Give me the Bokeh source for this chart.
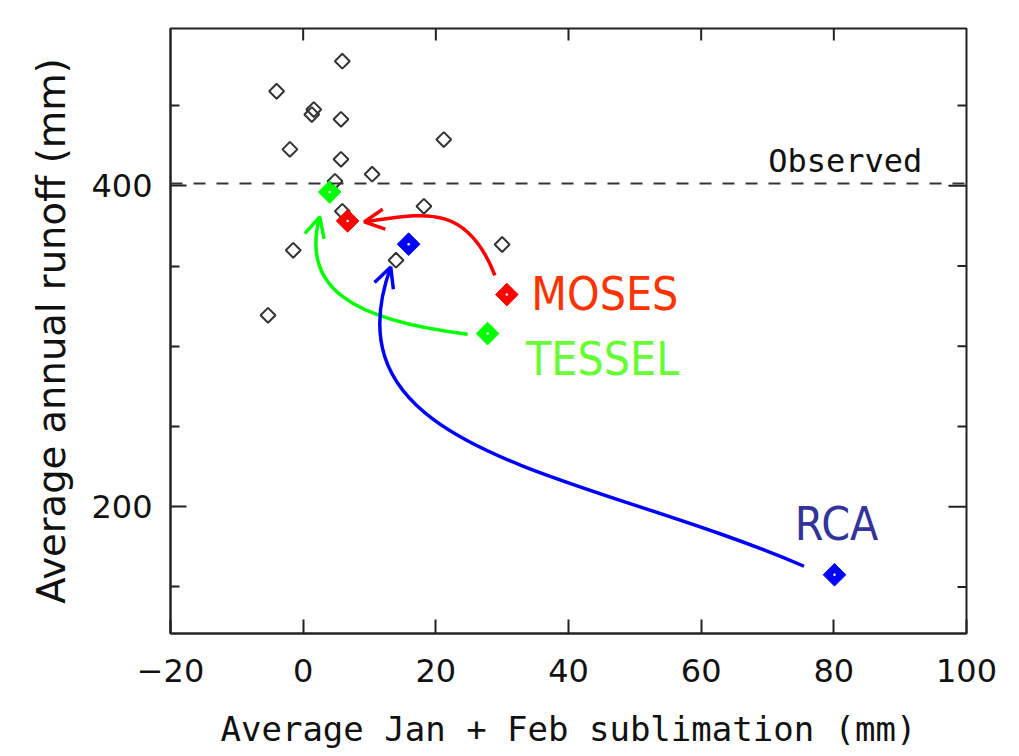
import numpy as np
from bokeh.plotting import figure
from bokeh.models import Span, FixedTicker, Arrow, OpenHead, Range1d
from bokeh.core.properties import value
from bokeh.embed import file_html
from bokeh.resources import INLINE

# Ensemble members (open diamonds)
ens_x = [5.9, -4.0, 1.6, 1.3, 5.7, -2.0, 21.2, 5.7, 10.4, 4.8, 18.2, 5.9, -1.5, 14.0, 30.0, -5.3]
ens_y = [477.6, 458.9, 447.5, 444.4, 441.4, 422.7, 428.8, 416.5, 407.2, 402.8, 387.2, 384.1, 359.8, 353.6, 363.4, 319.3]

# Land surface schemes
schemes = ["MOSES", "TESSEL", "RCA"]
colors = ["#FF0000", "#00FF00", "#0000FF"]
label_colors = ["#FF3300", "#66FF33", "#333399"]
start_x = [30.7, 27.8, 80.1]
start_y = [332.2, 307.9, 157.6]
end_x = [6.7, 4.0, 15.9]
end_y = [378.1, 396.1, 363.6]

# Arrow paths (cubic bezier: start, control 1, control 2, tip)
arrow_x0 = [28.9, 24.8, 75.5]
arrow_y0 = [344.2, 307.5, 162.9]
arrow_cx0 = [24.5, 7.2, 41.9]
arrow_cy0 = [391.0, 316.2, 222.7]
arrow_cx1 = [17.7, -0.4, 3.0]
arrow_cy1 = [382.2, 336.8, 232.0]
arrow_x1 = [9.2, 2.5, 13.2]
arrow_y1 = [377.5, 380.6, 349.4]

label_x = [34.4, 33.6, 74.1]
label_y = [332.7, 292.3, 189.3]

observed = 401.4
observed_label_x = [70.1]
observed_label_y = [415.6]

x_ticks = [-20, 0, 20, 40, 60, 80, 100]
x_tick_labels = ["\u221220", "0", "20", "40", "60", "80", "100"]
y_ticks = [200, 400]
y_minor = [150, 250, 300, 350, 450]

X_MIN, X_MAX = -20, 100
Y_MIN, Y_MAX = 121, 498

p = figure(width=1019, height=756, x_range=Range1d(X_MIN, X_MAX), y_range=Range1d(Y_MIN, Y_MAX),
           output_backend="svg", toolbar_location=None,
           min_border_left=170, min_border_right=53, min_border_top=28, min_border_bottom=123)
p.xgrid.visible = False
p.ygrid.visible = False
p.outline_line_color = "#222222"
p.outline_line_width = 2
p.background_fill_color = "white"
p.border_fill_color = "white"

ax = p.xaxis[0]
ax.ticker = FixedTicker(ticks=x_ticks, minor_ticks=[])
ax.major_label_overrides = {t: l for t, l in zip(x_ticks, x_tick_labels)}
ax.axis_label = "Average Jan + Feb sublimation (mm)"

ay = p.yaxis[0]
ay.ticker = FixedTicker(ticks=y_ticks, minor_ticks=y_minor)
ay.axis_label = "Average annual runoff (mm)"

for a in [ax, ay]:
    a.axis_line_color = "#222222"
    a.axis_line_width = 2
    a.major_tick_line_color = "#222222"
    a.major_tick_line_width = 2
    a.minor_tick_line_color = "#222222"
    a.minor_tick_line_width = 2
    a.major_tick_out = 0
    a.minor_tick_out = 0
    a.major_label_text_font = "DejaVu Sans"
    a.major_label_text_font_size = "32px"
    a.major_label_text_color = "#111111"
    a.axis_label_text_font_style = "normal"
    a.axis_label_text_color = "#111111"

ax.major_tick_in = 14
ax.minor_tick_in = 0
ay.major_tick_in = 16
ay.minor_tick_in = 9

ax.major_label_standoff = 25
ax.axis_label_text_font = "DejaVu Sans Mono"
ax.axis_label_text_font_size = "34px"
ax.axis_label_standoff = 24
ay.major_label_standoff = 18
ay.axis_label_text_font = "DejaVu Sans"
ay.axis_label_text_font_size = "38.5px"
ay.axis_label_standoff = 14

# Mirrored inward ticks on top and right edges
tick_col = "#222222"
p.ray(x=x_ticks[1:-1], y=[Y_MAX] * (len(x_ticks) - 2), length=12, length_units="screen",
      angle=-np.pi / 2, line_color=tick_col, line_width=2)
p.ray(x=[X_MAX] * len(y_ticks), y=y_ticks, length=18, length_units="screen",
      angle=np.pi, line_color=tick_col, line_width=2)
p.ray(x=[X_MAX] * len(y_minor), y=y_minor, length=9, length_units="screen",
      angle=np.pi, line_color=tick_col, line_width=2)

# Ensemble diamonds
p.scatter(ens_x, ens_y, marker="square", size=10.5, angle=np.pi / 4,
          fill_color=None, line_color="#333333", line_width=2)

# Observed line
p.add_layout(Span(location=observed, dimension="width", line_color="#333333",
                  line_width=2, line_dash="12 11"))
p.text(x=observed_label_x, y=observed_label_y, text=["Observed"],
       text_font=value("DejaVu Sans Mono"), text_font_size="32px",
       text_color="#111111", text_baseline="middle", text_align="left")

# Curved arrows
p.bezier(x0=arrow_x0, y0=arrow_y0, x1=arrow_x1, y1=arrow_y1,
         cx0=arrow_cx0, cy0=arrow_cy0, cx1=arrow_cx1, cy1=arrow_cy1,
         line_color=colors, line_width=3.5)
for i in range(3):
    p.add_layout(Arrow(end=OpenHead(size=20, line_color=colors[i], line_width=3.5),
                       x_start=arrow_cx1[i], y_start=arrow_cy1[i],
                       x_end=arrow_x1[i], y_end=arrow_y1[i], line_alpha=0))

# Scheme markers
mk_x = start_x + end_x
mk_y = start_y + end_y
mk_c = colors + colors
p.scatter(mk_x, mk_y, marker="square", size=16, angle=np.pi / 4,
          fill_color=mk_c, line_color=mk_c, line_width=1)
p.scatter(mk_x, mk_y, marker="circle", size=2.5, fill_color="white", line_color=None)

# Scheme labels
p.text(x=label_x, y=label_y, text=schemes, text_color=label_colors,
       text_font=value("DejaVu Sans Condensed, Roboto"), text_font_size="46px",
       text_baseline="middle", text_align="left")

open("out.html", "w").write(file_html(p, INLINE))
